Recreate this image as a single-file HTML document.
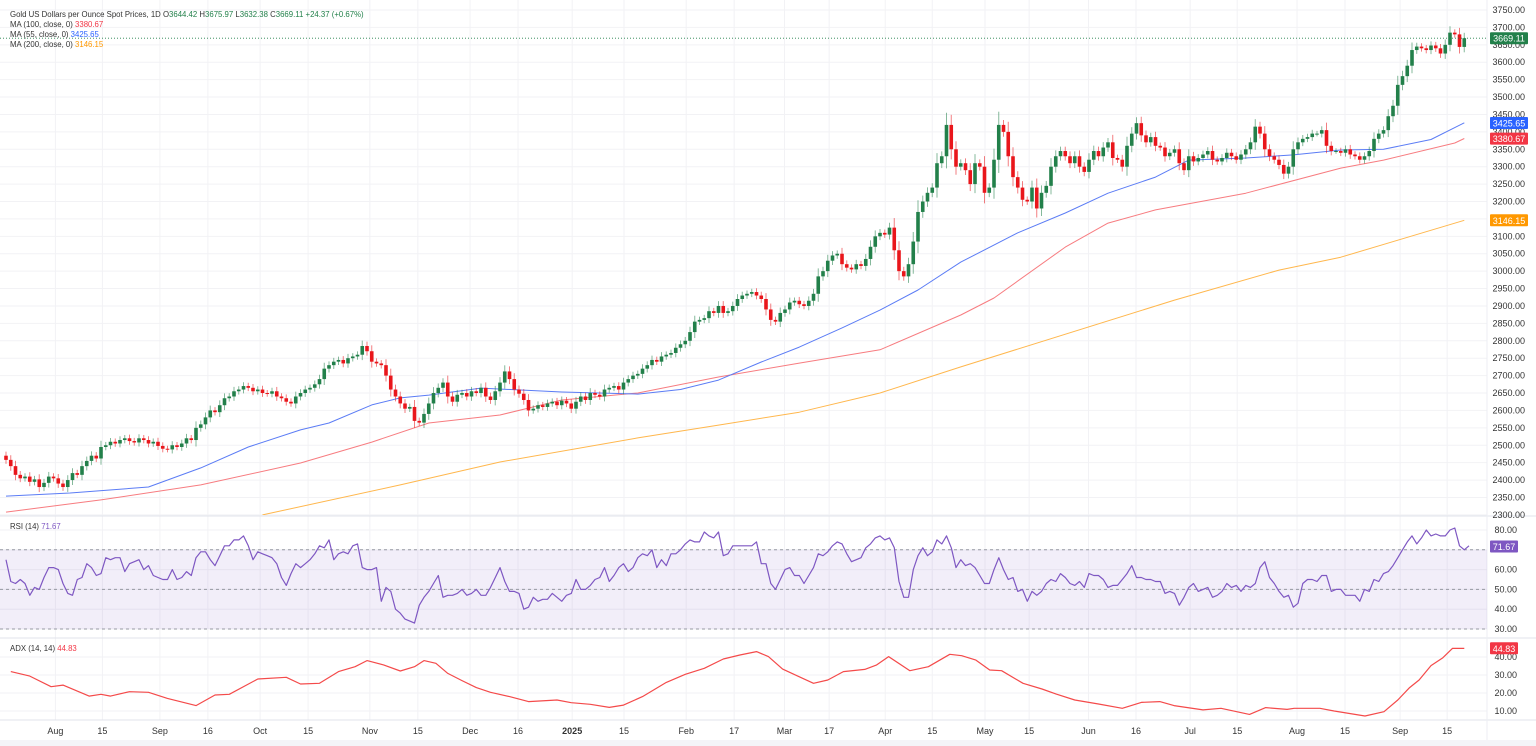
<!DOCTYPE html>
<html><head><meta charset="utf-8"><style>
body{margin:0;background:#fff;width:1536px;height:746px;overflow:hidden;font-family:"Liberation Sans",sans-serif}
svg{display:block}
text{font-family:"Liberation Sans",sans-serif}
</style></head><body>
<svg id="chart" width="1536" height="746" xmlns="http://www.w3.org/2000/svg">
<rect x="0" y="0" width="1536" height="746" fill="#fff"/>
<g id="grid"></g>
<g id="panes"></g>
<g id="marks"></g>
<g id="axes"></g>
<g id="legend">
<text x="10" y="17" font-size="7.8" fill="#333">Gold US Dollars per Ounce Spot Prices, 1D  <tspan fill="#333">O</tspan><tspan fill="#22804a">3644.42</tspan>  <tspan fill="#333">H</tspan><tspan fill="#22804a">3675.97</tspan>  <tspan fill="#333">L</tspan><tspan fill="#22804a">3632.38</tspan>  <tspan fill="#333">C</tspan><tspan fill="#22804a">3669.11  +24.37 (+0.67%)</tspan></text>
<text x="10" y="27" font-size="7.8" fill="#333">MA (100, close, 0)  <tspan fill="#f23645">3380.67</tspan></text>
<text x="10" y="37" font-size="7.8" fill="#333">MA (55, close, 0)  <tspan fill="#2962ff">3425.65</tspan></text>
<text x="10" y="47" font-size="7.8" fill="#333">MA (200, close, 0)  <tspan fill="#ff9800">3146.15</tspan></text>
<text x="10" y="529" font-size="7.8" fill="#333">RSI (14)  <tspan fill="#7e57c2">71.67</tspan></text>
<text x="10" y="651" font-size="7.8" fill="#333">ADX (14, 14)  <tspan fill="#f23645">44.83</tspan></text>
</g>
</svg>
<script>
const closes=[2458,2440,2415,2405,2410,2395,2402,2380,2392,2410,
2405,2390,2380,2400,2420,2415,2440,2455,2470,2462,
2495,2500,2510,2505,2515,2520,2512,2508,2520,2515,
2505,2510,2498,2490,2488,2500,2495,2505,2520,2515,
2550,2560,2580,2600,2595,2615,2635,2640,2655,2660,
2670,2665,2655,2660,2650,2648,2655,2640,2635,2625,
2620,2640,2650,2660,2665,2675,2690,2720,2730,2740,
2745,2735,2750,2755,2760,2785,2770,2740,2735,2730,
2700,2660,2640,2620,2605,2610,2570,2565,2590,2620,
2650,2665,2680,2640,2625,2645,2650,2640,2655,2650,
2665,2640,2630,2655,2680,2712,2690,2660,2648,2630,
2600,2605,2615,2610,2620,2625,2615,2628,2620,2605,
2625,2640,2630,2650,2645,2640,2660,2665,2670,2660,
2680,2690,2700,2705,2720,2730,2745,2740,2755,2760,
2765,2780,2790,2800,2825,2855,2860,2865,2885,2880,
2900,2880,2885,2900,2920,2930,2935,2940,2930,2920,
2890,2860,2855,2880,2890,2910,2915,2905,2900,2915,
2935,2985,3000,3030,3045,3050,3020,3010,3005,3020,
3015,3035,3070,3100,3110,3105,3125,3060,3000,2985,
3020,3085,3170,3200,3225,3240,3310,3330,3420,3350,
3300,3310,3290,3250,3310,3300,3225,3240,3320,3420,
3400,3330,3270,3240,3205,3200,3240,3180,3225,3245,
3300,3330,3345,3330,3310,3330,3300,3285,3320,3345,
3330,3355,3370,3325,3320,3300,3360,3395,3425,3390,
3370,3385,3360,3355,3330,3340,3350,3310,3290,3330,
3315,3325,3335,3345,3320,3315,3325,3340,3330,3320,
3335,3350,3370,3415,3395,3350,3330,3320,3305,3280,
3300,3350,3370,3380,3385,3395,3395,3405,3360,3345,
3345,3340,3350,3335,3330,3320,3330,3345,3380,3395,
3405,3445,3475,3535,3560,3590,3635,3645,3640,3635,
3648,3640,3625,3650,3685,3680,3644,3669];
const firstOpen=2470;
const ma55Idx=[0,13.5,30,41,51,62,68,77,83,89,100,117,133,142,150,159,167,176,184,192,201,213,223,232,242,249,261,271,281,290,300,307];
const ma55Val=[2354,2363,2380,2435,2495,2544,2564,2616,2636,2644,2664,2653,2647,2660,2687,2739,2782,2837,2888,2946,3026,3110,3167,3224,3270,3319,3325,3334,3348,3350,3378,3426];
const ma100Idx=[0,20,41,62,77,89,104,117,133,150,167,184,201,208,223,232,242,261,281,290,305,307];
const ma100Val=[2308,2343,2386,2449,2509,2564,2587,2630,2650,2696,2736,2774,2874,2923,3069,3138,3176,3224,3296,3319,3368,3381];
const ma200Idx=[54,83,104,133,150,167,184,201,246,268,281,293,307];
const ma200Val=[2300,2386,2452,2521,2558,2595,2650,2725,2917,3003,3040,3089,3146];
const rsiVals=[65,54,53,55,53,47,51,50,56,61,61,60,53,48,47,55,56,63,61,57,58,66,65,66,66,59,63,64,65,60,62,57,56,55,55,60,55,56,59,57,66,69,69,65,62,67,72,72,75,75,77,72,65,69,68,67,66,63,56,52,58,63,61,63,65,68,72,71,75,65,68,69,68,72,73,61,60,60,61,44,51,49,40,38,35,34,33,42,46,49,53,57,46,47,47,48,50,47,48,50,47,47,51,56,61,54,49,49,48,40,41,46,44,45,45,48,46,44,47,48,55,50,50,52,55,56,61,54,57,61,63,59,61,66,68,67,70,61,65,62,68,68,70,73,75,74,74,79,77,76,79,67,68,72,72,
72,72,72,74,63,63,53,50,55,60,61,57,57,53,57,61,68,67,69,72,74,73,68,64,65,66,71,73,76,77,75,76,71,54,46,46,60,67,71,67,69,75,73,77,71,61,65,62,63,61,57,53,53,60,66,60,55,56,49,50,44,49,47,49,53,55,54,58,56,53,52,54,51,58,57,57,55,51,52,52,55,58,62,56,56,55,55,54,54,48,49,48,42,46,51,53,49,50,51,46,47,49,53,51,52,49,52,51,53,61,64,56,53,49,46,47,41,43,53,55,55,54,57,57,49,50,50,47,47,47,44,50,49,55,54,58,59,62,66,70,74,77,73,76,80,77,78,77,77,80,81,72,70,72];
const adxIdx=[1,5,9.5,12,17.5,20,22,26,30,34,40,44,47,53,59,62,66,70,73.5,76,79.5,83,86,88,90.5,93,96,99,102,106,110,116,119,123,127,130,134,139,143,147,151,154.5,158,160.5,163.5,166.9,170,173,176.3,180.8,183.3,185.8,190.3,194.2,198.7,201.2,204.2,207.1,209.6,214.1,218.1,221.1,225,230,235,239,242.9,245.9,252,255.8,261.8,265.2,269.7,271.2,276.6,279.6,286.1,290.1,293,295.5,297.5,300,302.5,304.5,307];
const adxVals=[31.9,29.4,23.5,24.4,18.3,19.3,18.3,20.7,20.4,17,13,18.9,19.3,27.8,28.7,25,25.4,31.9,34.6,38,35.6,32.2,34.6,38,36.5,30.9,26.9,23,20.4,18,15.2,16.1,14.6,13.7,12,13.3,18,25.9,30.4,33.7,38.9,41.1,43,40.2,33.3,29.1,25.4,27.2,31.9,33.1,35.6,40.2,32.4,34.6,41.5,40.7,38.3,32.8,32.4,25.4,22.2,19.4,16.1,13.9,11.5,14.8,15.2,13,10.6,11.5,8.1,11.9,10.9,11.5,11.5,10,7.2,9.6,16.1,23,27.2,35.2,39.6,44.8,44.8];
const priceTicks=[3750,3700,3650,3600,3550,3500,3450,3400,3350,3300,3250,3200,3150,3100,3050,3000,2950,2900,2850,2800,2750,2700,2650,2600,2550,2500,2450,2400,2350,2300];
const rsiTicks=[80,60,50,40,30];
const adxTicks=[40,30,20,10];
const dateLabels=["Aug","15","Sep","16","Oct","15","Nov","15","Dec","16","2025","15","Feb","17","Mar","17","Apr","15","May","15","Jun","16","Jul","15","Aug","15","Sep","15"];
const dateIdx=[10.4,20.3,32.4,42.5,53.5,63.6,76.6,86.7,97.7,107.8,119.2,130.1,143.2,153.3,163.9,173.3,185.1,195,206.1,215.4,227.9,237.9,249.3,259.2,271.8,281.9,293.5,303.4];

const NS="http://www.w3.org/2000/svg";
function mk(tag,attrs,parent){const e=document.createElementNS(NS,tag);for(const k in attrs)e.setAttribute(k,attrs[k]);parent.appendChild(e);return e;}
const X=i=>6+4.75*i;
const PY=p=>10+(3750-p)/50*17.41;
const RY=v=>530+(80-v)*1.98;
const AY=v=>657+(40-v)*1.8;
const grid=document.getElementById('grid'),panes=document.getElementById('panes'),marks=document.getElementById('marks'),axes=document.getElementById('axes');
const plotR=1487;
priceTicks.forEach(p=>{const l=mk('line',{x1:0,x2:plotR,y1:PY(p),y2:PY(p),stroke:'#f2f2f5','stroke-width':1},grid);

});
[80,70,60,50,40,30].forEach(v=>{const l=mk('line',{x1:0,x2:plotR,y1:RY(v),y2:RY(v),stroke:'#f2f2f5'},grid);

});
adxTicks.forEach(v=>{const l=mk('line',{x1:0,x2:plotR,y1:AY(v),y2:AY(v),stroke:'#f2f2f5'},grid);

});
dateIdx.forEach(i=>{const l=mk('line',{x1:X(i),x2:X(i),y1:0,y2:720,stroke:'#f2f2f5'},grid);

});
[[516],[638],[720]].forEach(([y])=>{const l=mk('line',{x1:0,x2:1536,y1:y,y2:y,stroke:'#e0e3eb'},panes);

});
const ab=mk('line',{x1:plotR,x2:plotR,y1:0,y2:740,stroke:'#eceef3'},panes);


const bb=mk('rect',{x:0,y:740,width:1536,height:6,fill:'#f4f4f8'},panes);


const band=mk('rect',{x:0,y:RY(70),width:plotR,height:RY(30)-RY(70),fill:'rgba(126,87,194,0.1)'},panes);


[70,50,30].forEach(v=>{const l=mk('line',{x1:0,x2:plotR,y1:RY(v),y2:RY(v),stroke:'#9598a1','stroke-dasharray':'3,3'},panes);

});
const defs=mk('defs',{},marks);const cp=mk('clipPath',{id:'pc'},defs);mk('rect',{x:0,y:0,width:plotR,height:515},cp);
const pg=mk('g',{'clip-path':'url(#pc)'},marks);


function line(idx,vals,yf,color,name,parent,w){const d=vals.map((v,k)=>(k?'L':'M')+X(idx?idx[k]:k).toFixed(1)+','+yf(v).toFixed(1)).join('');
const p=mk('path',{d:d,fill:'none',stroke:color,'stroke-width':w||1,'stroke-linejoin':'round'},parent);

}
line(ma200Idx,ma200Val,PY,'#ffb74d','ma200-line',pg);
line(ma100Idx,ma100Val,PY,'#f77c80','ma100-line',pg);
line(ma55Idx,ma55Val,PY,'#5b7cf5','ma55-line',pg);
closes.forEach((c,i)=>{const o=i?closes[i-1]:firstOpen;const up=c>=o;const col=up?'#22804a':'#e9161b';
const hi=Math.max(o,c)+8+Math.abs(c-o)*0.3,lo=Math.min(o,c)-8-Math.abs(c-o)*0.3;const x=X(i);
const w=mk('line',{x1:x,x2:x,y1:PY(hi),y2:PY(lo),stroke:col,'stroke-width':1,opacity:0.55},pg);


const top=PY(Math.max(o,c)),h=Math.max(1,PY(Math.min(o,c))-top);
const b=mk('rect',{x:x-1.8,y:top,width:3.6,height:h,fill:col},pg);

});
const last=closes[closes.length-1];
const cl=mk('line',{x1:0,x2:plotR,y1:PY(last),y2:PY(last),stroke:'#22804a','stroke-dasharray':'1,2','stroke-width':0.8},marks);


line(null,rsiVals,RY,'#7e57c2','rsi-line',marks,1.2);
line(adxIdx,adxVals,AY,'#f44a4a','adx-line',marks,1.2);
function lab(x,y,t,name,opts){const e=mk('text',Object.assign({x:x,y:y,'font-size':9,fill:'#333'},opts||{}),axes);e.textContent=t;

return e;}
priceTicks.forEach(p=>lab(1525,PY(p)+3,p.toFixed(2),'price-tick-label',{'text-anchor':'end'}));
rsiTicks.forEach(v=>lab(1517,RY(v)+3,v.toFixed(2),'rsi-tick-label',{'text-anchor':'end'}));
adxTicks.forEach(v=>lab(1517,AY(v)+3,v.toFixed(2),'adx-tick-label',{'text-anchor':'end'}));
dateLabels.forEach((t,k)=>lab(X(dateIdx[k]),734,t,'date-label',{'text-anchor':'middle','font-weight':t==='2025'?'bold':'normal'}));
function badge(y,t,col,name,w){const r=mk('rect',{x:1490,y:y-6,width:w||38,height:12,fill:col,rx:1},axes);


const e=mk('text',{x:1490+(w||38)/2,y:y+3.5,'font-size':9,fill:'#fff','text-anchor':'middle'},axes);e.textContent=t;

}
badge(PY(last),'3669.11','#22804a','last-price-badge');
badge(PY(3425.65),'3425.65','#2962ff','ma55-badge');
badge(PY(3380.67),'3380.67','#f23645','ma100-badge');
badge(PY(3146.15),'3146.15','#ff9800','ma200-badge');
badge(RY(71.67),'71.67','#7e57c2','rsi-badge',28);
badge(AY(44.83),'44.83','#f23645','adx-badge',28);
</script>
</body></html>
